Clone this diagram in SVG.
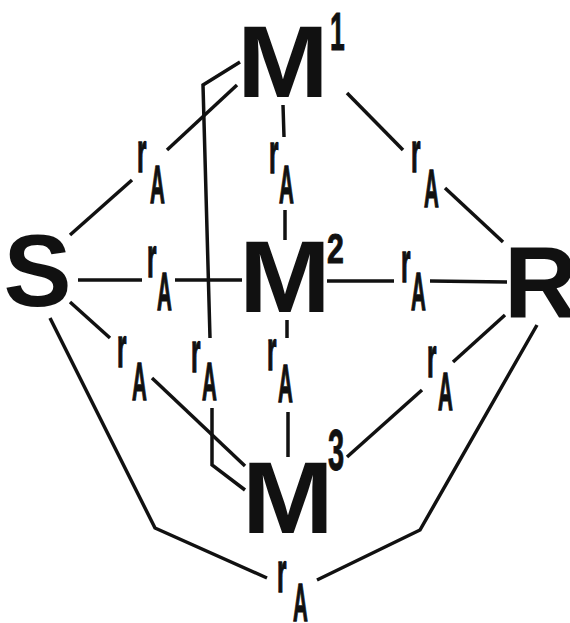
<svg xmlns="http://www.w3.org/2000/svg" width="570" height="623" viewBox="0 0 570 623">
<style>
  .big{font-family:"Liberation Sans",Arial,Helvetica,sans-serif;font-weight:bold;font-size:102px;fill:#111}
  .sup{font-family:"Liberation Sans",Arial,Helvetica,sans-serif;font-weight:bold;fill:#111;stroke:#111;stroke-width:1}
  .r{font-family:"Liberation Sans",Arial,Helvetica,sans-serif;font-weight:bold;font-size:58px;fill:#111;stroke:#111;stroke-width:1.5}
  .a{font-family:"Liberation Sans",Arial,Helvetica,sans-serif;font-weight:bold;font-size:54px;fill:#111;stroke:#111;stroke-width:1.5}
  .ln{fill:none;stroke:#111;stroke-width:3.5;stroke-linecap:butt;stroke-linejoin:miter}
</style>
<rect width="570" height="623" fill="#fff"/>
<g id="connectors" class="ln">
  <line x1="70" y1="235" x2="132" y2="180"/>
  <line x1="167" y1="150" x2="237" y2="85"/>
  <polyline points="240,62 203,85 210,338"/>
  <polyline points="212,408 212,465 245,490"/>
  <line x1="283" y1="105" x2="284" y2="137"/>
  <line x1="285" y1="210" x2="285" y2="240"/>
  <line x1="347" y1="93" x2="403" y2="150"/>
  <line x1="445" y1="188" x2="503" y2="242"/>
  <line x1="78" y1="280" x2="142" y2="280"/>
  <line x1="175" y1="280" x2="242" y2="280"/>
  <line x1="327" y1="281" x2="394" y2="281"/>
  <line x1="430" y1="281" x2="507" y2="282"/>
  <line x1="70" y1="302" x2="110" y2="338"/>
  <line x1="152" y1="378" x2="245" y2="466"/>
  <line x1="287" y1="320" x2="287" y2="338"/>
  <line x1="288" y1="412" x2="288" y2="457"/>
  <line x1="505" y1="315" x2="453" y2="362"/>
  <line x1="422" y1="390" x2="347" y2="457"/>
  <polyline points="50,318 155,528 267,578"/>
  <polyline points="537,325 420,530 317,580"/>
</g>
<g id="S"><text class="big" x="3.5" y="306">S</text></g>
<g id="R"><text class="big" x="504" y="318">R</text></g>
<g id="M1">
  <text class="big" transform="translate(237,97) scale(1.08,1)">M</text>
  <text class="sup" font-size="53" transform="translate(330,50) scale(0.5,1)">1</text>
</g>
<g id="M2">
  <text class="big" transform="translate(239,312) scale(1.08,1)">M</text>
  <text class="sup" font-size="42" transform="translate(327,263) scale(0.72,1)">2</text>
</g>
<g id="M3">
  <text class="big" transform="translate(242,533) scale(1.08,1)">M</text>
  <text class="sup" font-size="58" transform="translate(328,470) scale(0.5,1)">3</text>
</g>
<g id="label-S-M1">
  <text class="r" transform="translate(137,172) scale(0.42,1)">r</text>
  <text class="a" transform="translate(150,203) scale(0.38,1)">A</text>
</g>
<g id="label-M1-M2">
  <text class="r" transform="translate(269,173) scale(0.42,1)">r</text>
  <text class="a" transform="translate(279,203) scale(0.38,1)">A</text>
</g>
<g id="label-M1-R">
  <text class="r" transform="translate(411,172) scale(0.42,1)">r</text>
  <text class="a" transform="translate(424,207) scale(0.38,1)">A</text>
</g>
<g id="label-S-M2">
  <text class="r" transform="translate(147,277) scale(0.42,1)">r</text>
  <text class="a" transform="translate(157,310) scale(0.38,1)">A</text>
</g>
<g id="label-M2-R">
  <text class="r" transform="translate(401,282) scale(0.42,1)">r</text>
  <text class="a" transform="translate(411,310) scale(0.38,1)">A</text>
</g>
<g id="label-S-M3">
  <text class="r" transform="translate(117,367) scale(0.42,1)">r</text>
  <text class="a" transform="translate(132,400) scale(0.38,1)">A</text>
</g>
<g id="label-M1-M3">
  <text class="r" transform="translate(191,372) scale(0.42,1)">r</text>
  <text class="a" transform="translate(202,400) scale(0.38,1)">A</text>
</g>
<g id="label-M2-M3">
  <text class="r" transform="translate(267,370) scale(0.42,1)">r</text>
  <text class="a" transform="translate(278,402) scale(0.38,1)">A</text>
</g>
<g id="label-M3-R">
  <text class="r" transform="translate(427,377) scale(0.42,1)">r</text>
  <text class="a" transform="translate(438,410) scale(0.38,1)">A</text>
</g>
<g id="label-S-R">
  <text class="r" transform="translate(277,592) scale(0.42,1)">r</text>
  <text class="a" transform="translate(293,621) scale(0.38,1)">A</text>
</g>
</svg>
